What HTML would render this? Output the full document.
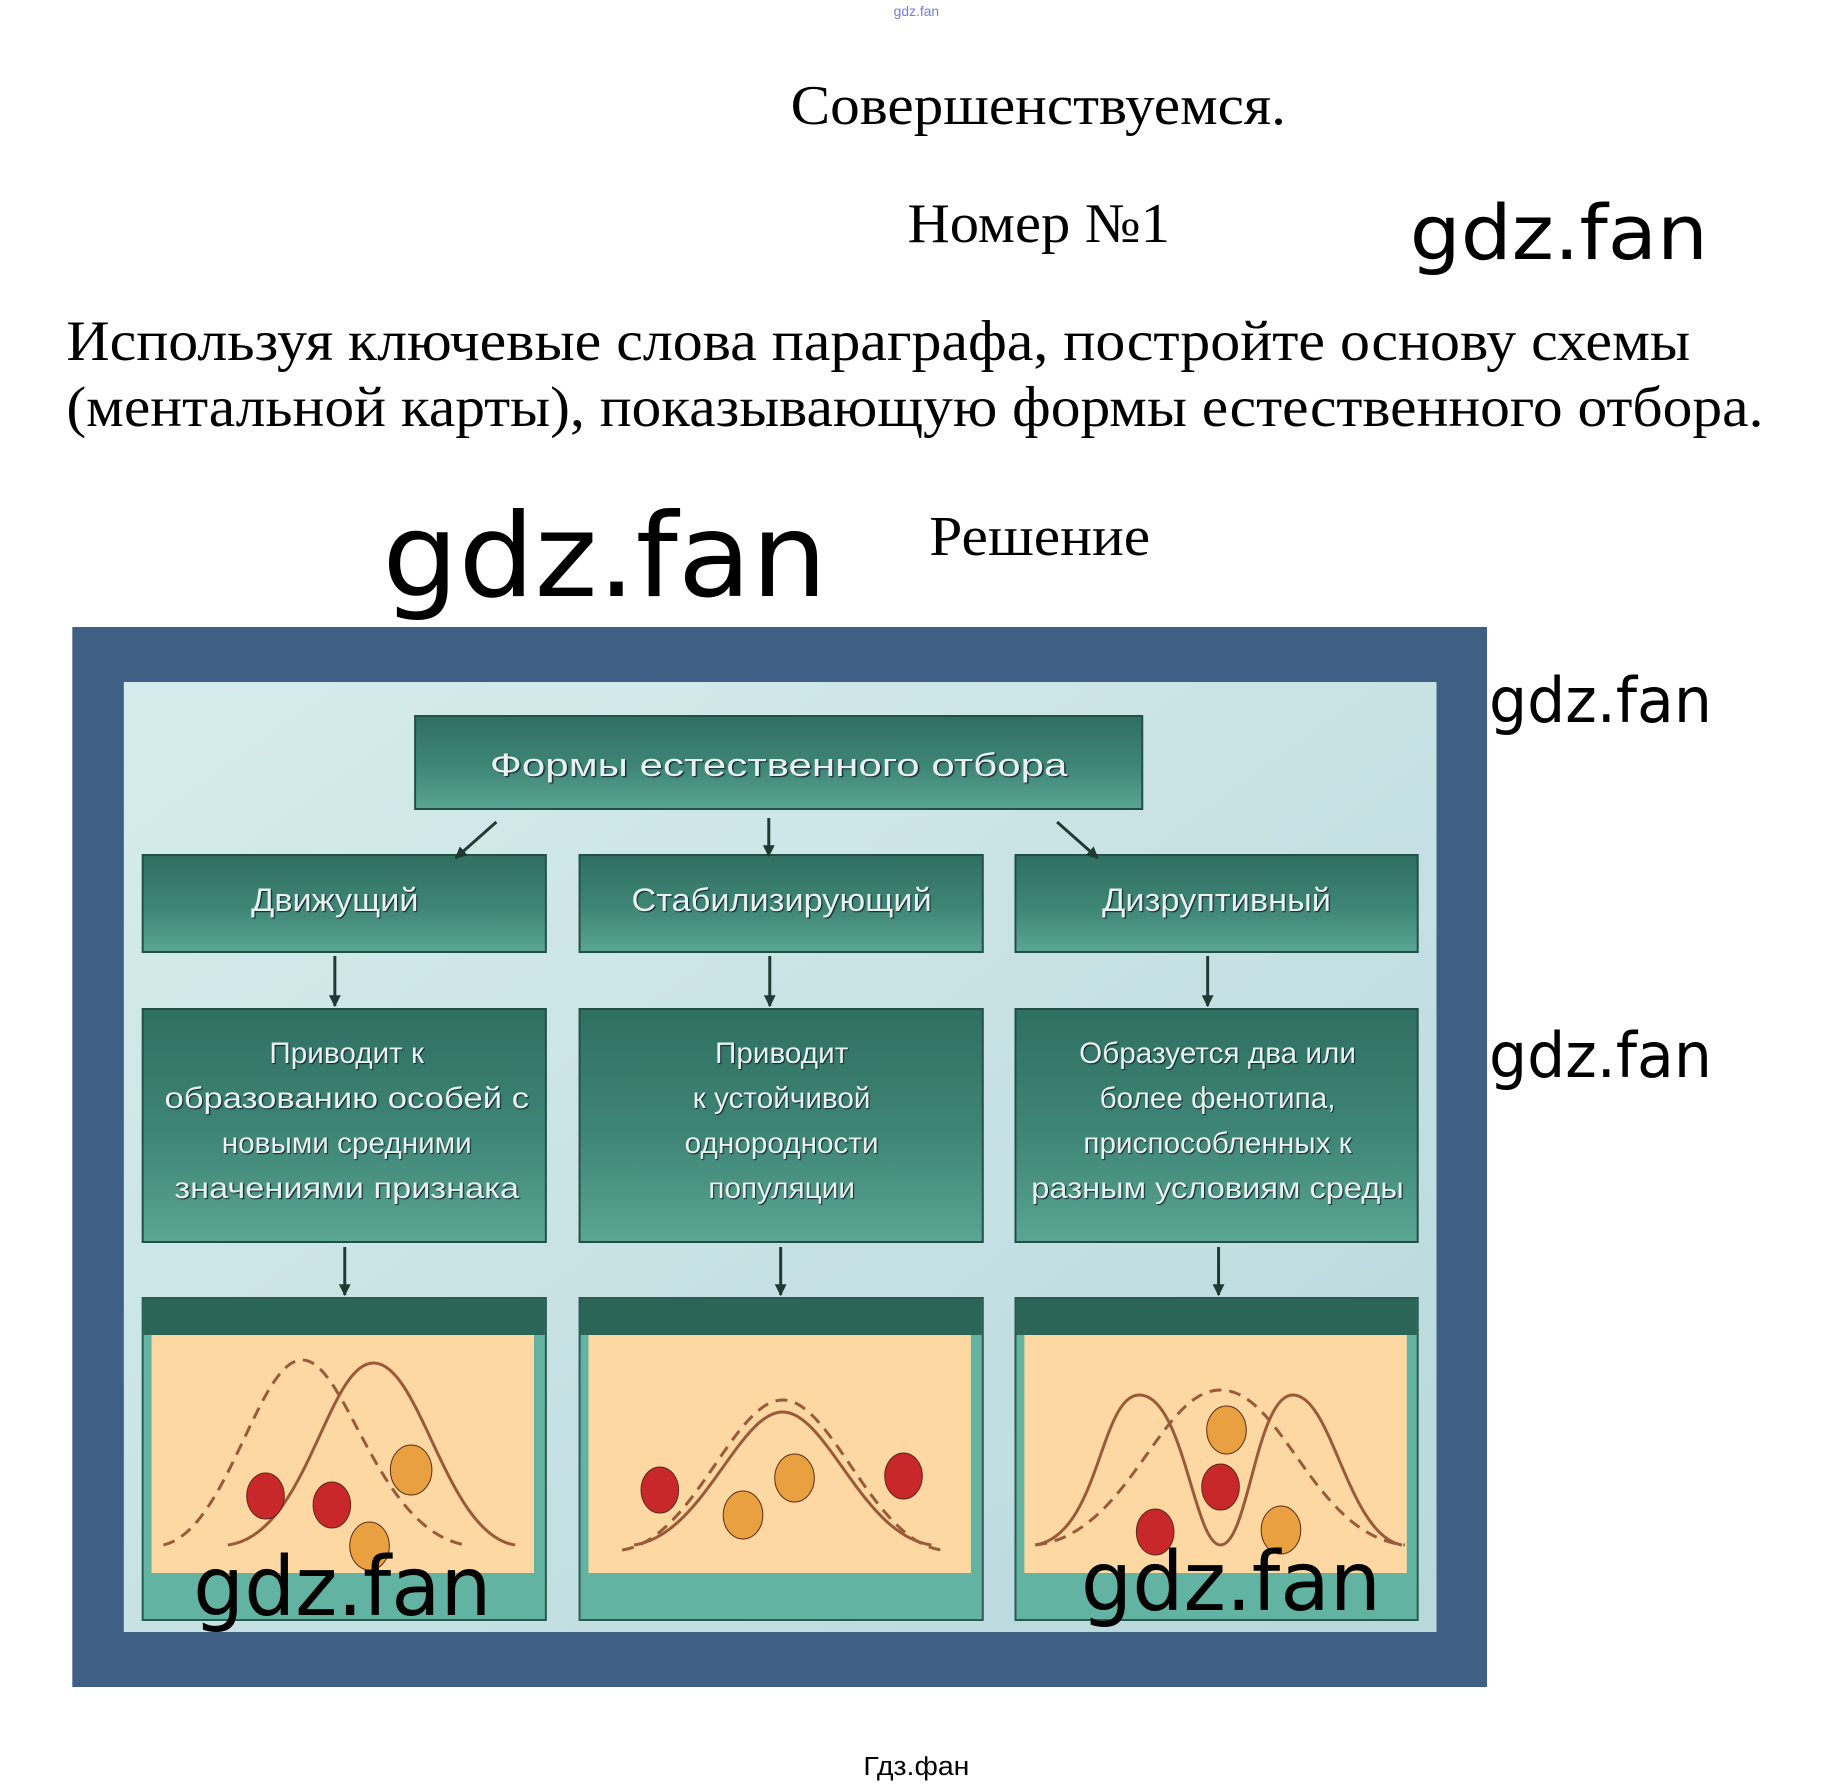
<!DOCTYPE html>
<html><head><meta charset="utf-8"><style>html,body{margin:0;padding:0;background:#fff}svg{display:block}</style></head><body>
<svg width="1831" height="1784" viewBox="0 0 1831 1784" xmlns="http://www.w3.org/2000/svg">
<defs>
<linearGradient id="bx" x1="0" y1="0" x2="0" y2="1"><stop offset="0" stop-color="#2f6f62"/><stop offset="0.55" stop-color="#3f8677"/><stop offset="1" stop-color="#5aa593"/></linearGradient>
<linearGradient id="bg" x1="0" y1="0" x2="1" y2="1"><stop offset="0" stop-color="#d6ecec"/><stop offset="0.5" stop-color="#c8e2e4"/><stop offset="1" stop-color="#b8d8dc"/></linearGradient>
<marker id="ah" viewBox="0 0 10 10" refX="9" refY="5" markerWidth="4" markerHeight="4" orient="auto"><path d="M0,0 L10,5 L0,10 z" fill="#1f3a34"/></marker>
</defs>
<g transform="scale(0.9907,1)">
<g font-family="Liberation Serif, serif" fill="#000">
<text x="925" y="16" font-family="Liberation Sans, sans-serif" font-size="14" fill="#7a7adf" text-anchor="middle">gdz.fan</text>
<text x="798" y="124" font-size="56" textLength="500" lengthAdjust="spacingAndGlyphs">Совершенствуемся.</text>
<text x="916" y="242" font-size="56" textLength="265" lengthAdjust="spacingAndGlyphs">Номер №1</text>
<text x="67" y="360" font-size="57" textLength="1639" lengthAdjust="spacingAndGlyphs">Используя ключевые слова параграфа, постройте основу схемы</text>
<text x="67" y="426" font-size="57" textLength="1713" lengthAdjust="spacingAndGlyphs">(ментальной карты), показывающую формы естественного отбора.</text>
<text x="938" y="555" font-size="56" textLength="223" lengthAdjust="spacingAndGlyphs">Решение</text>
</g>
<g font-family="DejaVu Sans, Liberation Sans, sans-serif" fill="#000">
<text x="1423" y="259" font-size="76" textLength="301" lengthAdjust="spacingAndGlyphs">gdz.fan</text>
<text x="386" y="596" font-size="116" textLength="449" lengthAdjust="spacingAndGlyphs">gdz.fan</text>
</g>
<rect x="73" y="627" width="1428" height="1060" fill="#3f5f85"/>
<rect x="125" y="682" width="1325" height="950" fill="url(#bg)"/>
<g fill="url(#bx)" stroke="#244f47" stroke-width="2">
<rect x="419" y="716" width="734" height="93"/>
<rect x="144" y="855" width="407" height="97"/>
<rect x="585" y="855" width="407" height="97"/>
<rect x="1025" y="855" width="406" height="97"/>
<rect x="144" y="1009" width="407" height="233"/>
<rect x="585" y="1009" width="407" height="233"/>
<rect x="1025" y="1009" width="406" height="233"/>
</g>
<g>
<rect x="144" y="1298" width="407" height="322" fill="#62b3a2" stroke="#2a5a50" stroke-width="2"/>
<rect x="585" y="1298" width="407" height="322" fill="#62b3a2" stroke="#2a5a50" stroke-width="2"/>
<rect x="1025" y="1298" width="406" height="322" fill="#62b3a2" stroke="#2a5a50" stroke-width="2"/>
<rect x="145" y="1299" width="405" height="36" fill="#2b6558"/>
<rect x="586" y="1299" width="405" height="36" fill="#2b6558"/>
<rect x="1026" y="1299" width="404" height="36" fill="#2b6558"/>
<rect x="153" y="1335" width="386" height="238" fill="#fdd8a3"/>
<rect x="594" y="1335" width="386" height="238" fill="#fdd8a3"/>
<rect x="1034" y="1335" width="386" height="238" fill="#fdd8a3"/>
</g>
<g stroke="#1f3a34" stroke-width="3" fill="none" marker-end="url(#ah)">
<line x1="501" y1="822" x2="460" y2="858"/>
<line x1="776" y1="818" x2="776" y2="856"/>
<line x1="1067" y1="822" x2="1108" y2="858"/>
<line x1="338" y1="956" x2="338" y2="1006"/>
<line x1="777" y1="956" x2="777" y2="1006"/>
<line x1="1219" y1="956" x2="1219" y2="1006"/>
<line x1="348" y1="1247" x2="348" y2="1295"/>
<line x1="788" y1="1247" x2="788" y2="1295"/>
<line x1="1230" y1="1247" x2="1230" y2="1295"/>
</g>
<g font-family="Liberation Sans, sans-serif" fill="#e8f2ee" text-anchor="middle" font-size="32" style="text-shadow:1px 1px 1px #123">
<text x="786" y="776" textLength="583" lengthAdjust="spacingAndGlyphs">Формы естественного отбора</text>
<text x="338" y="911" textLength="169" lengthAdjust="spacingAndGlyphs">Движущий</text>
<text x="789" y="911" textLength="303" lengthAdjust="spacingAndGlyphs">Стабилизирующий</text>
<text x="1228" y="911" textLength="231" lengthAdjust="spacingAndGlyphs">Дизруптивный</text>
<g font-size="30">
<text x="350" y="1063">Приводит к</text>
<text x="350" y="1108" textLength="368" lengthAdjust="spacingAndGlyphs">образованию особей с</text>
<text x="350" y="1153">новыми средними</text>
<text x="350" y="1198" textLength="348" lengthAdjust="spacingAndGlyphs">значениями признака</text>
<text x="789" y="1063">Приводит</text>
<text x="789" y="1108">к устойчивой</text>
<text x="789" y="1153">однородности</text>
<text x="789" y="1198">популяции</text>
<text x="1229" y="1063">Образуется два или</text>
<text x="1229" y="1108">более фенотипа,</text>
<text x="1229" y="1153">приспособленных к</text>
<text x="1229" y="1198" textLength="376" lengthAdjust="spacingAndGlyphs">разным условиям среды</text>
</g>
</g>
<g fill="none" stroke="#9a5a3a" stroke-width="3">
<path d="M165,1545 C230,1530 260,1360 305,1360 C350,1360 380,1530 470,1545" stroke-dasharray="12,8"/>
<path d="M230,1545 C310,1535 330,1363 377,1363 C425,1363 450,1535 520,1545"/>
<path d="M628,1550 C700,1540 740,1400 790,1400 C840,1400 880,1540 950,1550" stroke-dasharray="12,8"/>
<path d="M640,1545 C710,1535 745,1412 790,1412 C835,1412 870,1535 940,1545"/>
<path d="M1045,1545 C1140,1535 1170,1390 1232,1390 C1295,1390 1325,1535 1418,1545" stroke-dasharray="12,8"/>
<path d="M1045,1545 C1110,1535 1110,1395 1150,1395 C1195,1395 1205,1545 1232,1545 C1260,1545 1268,1395 1305,1395 C1345,1395 1360,1535 1415,1545"/>
</g>
<g stroke="#5a2a1a" stroke-width="1">
<ellipse cx="268" cy="1496" rx="19" ry="23" fill="#c8282a"/>
<ellipse cx="335" cy="1505" rx="19" ry="23" fill="#c8282a"/>
<ellipse cx="415" cy="1470" rx="21" ry="25" fill="#e8a040"/>
<ellipse cx="373" cy="1546" rx="20" ry="24" fill="#e8a040"/>
<ellipse cx="666" cy="1490" rx="19" ry="23" fill="#c8282a"/>
<ellipse cx="750" cy="1515" rx="20" ry="24" fill="#e8a040"/>
<ellipse cx="802" cy="1478" rx="20" ry="24" fill="#e8a040"/>
<ellipse cx="912" cy="1476" rx="19" ry="23" fill="#c8282a"/>
<ellipse cx="1238" cy="1430" rx="20" ry="24" fill="#e8a040"/>
<ellipse cx="1232" cy="1487" rx="19" ry="23" fill="#c8282a"/>
<ellipse cx="1166" cy="1532" rx="19" ry="23" fill="#c8282a"/>
<ellipse cx="1293" cy="1530" rx="20" ry="24" fill="#e8a040"/>
</g>
<g font-family="DejaVu Sans, Liberation Sans, sans-serif" fill="#000">
<text x="1503" y="722" font-size="62" textLength="225" lengthAdjust="spacingAndGlyphs">gdz.fan</text>
<text x="1503" y="1077" font-size="62" textLength="225" lengthAdjust="spacingAndGlyphs">gdz.fan</text>
<text x="195" y="1615" font-size="82" textLength="301" lengthAdjust="spacingAndGlyphs">gdz.fan</text>
<text x="1091" y="1610" font-size="82" textLength="303" lengthAdjust="spacingAndGlyphs">gdz.fan</text>
<text x="925" y="1775" font-family="Liberation Sans, sans-serif" font-size="26" text-anchor="middle" textLength="107" lengthAdjust="spacingAndGlyphs">Гдз.фан</text>
</g>
</g>
</svg>
</body></html>
